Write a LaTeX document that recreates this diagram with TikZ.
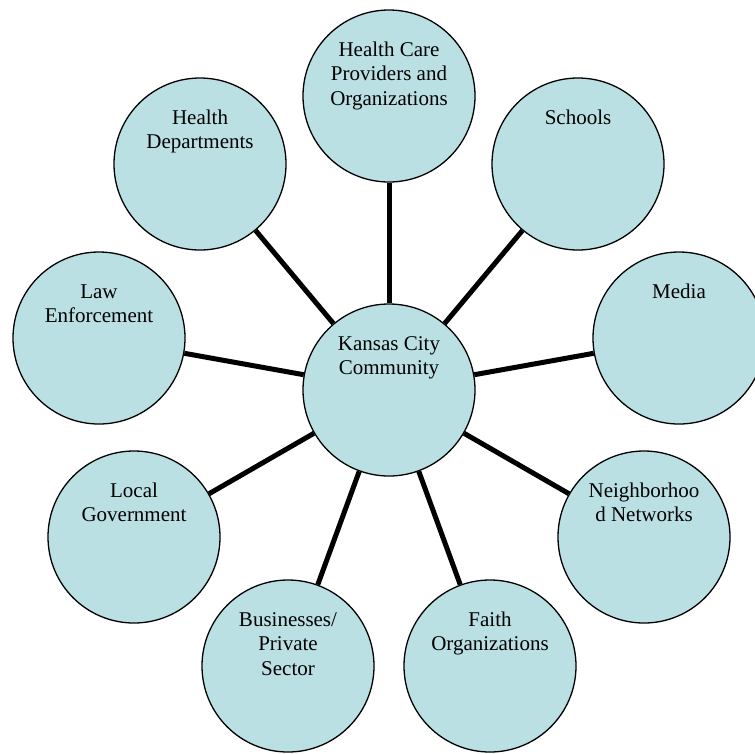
\documentclass[tikz,border=0pt]{standalone}
\usepackage{fontspec}
\setmainfont{Liberation Serif}
\definecolor{bubble}{RGB}{186,224,227}
\begin{document}
\begin{tikzpicture}[x=1pt,y=-1pt,
  bubble/.style={circle,draw=black,line width=1.3pt,fill=bubble,minimum size=172pt,inner sep=0pt},
  spoke/.style={line width=5pt},
  caption/.style={anchor=base,inner sep=0pt,font=\fontsize{21}{24.5}\selectfont}]
\clip (0,0) rectangle (755,753);
% hub and satellites
\node[bubble] (kc) at (389,390) {};
\node[bubble] (hc) at (389,96) {};
\node[bubble] (sc) at (578,164) {};
\node[bubble] (me) at (679,338) {};
\node[bubble] (nn) at (644,537) {};
\node[bubble] (fo) at (490,666) {};
\node[bubble] (bp) at (288,666) {};
\node[bubble] (lg) at (134,537) {};
\node[bubble] (le) at (99,338) {};
\node[bubble] (hd) at (200,164) {};
% spokes from the hub
\foreach \s in {hc,sc,me,nn,fo,bp,lg,le,hd}
  \draw[spoke] (kc) -- (\s);
% captions, first baseline near the top of each circle
\node[caption] (t-kc) at (389,350) {\begin{tabular}[t]{@{}c@{}}Kansas City\\Community\end{tabular}};
\node[caption] (t-hc) at (389,56) {\begin{tabular}[t]{@{}c@{}}Health Care\\Providers and\\Organizations\end{tabular}};
\node[caption] (t-sc) at (578,124) {\begin{tabular}[t]{@{}c@{}}Schools\end{tabular}};
\node[caption] (t-me) at (679,298) {\begin{tabular}[t]{@{}c@{}}Media\end{tabular}};
\node[caption] (t-nn) at (644,497) {\begin{tabular}[t]{@{}c@{}}Neighborhoo\\d Networks\end{tabular}};
\node[caption] (t-fo) at (490,626) {\begin{tabular}[t]{@{}c@{}}Faith\\Organizations\end{tabular}};
\node[caption] (t-bp) at (288,626) {\begin{tabular}[t]{@{}c@{}}Businesses/\\Private\\Sector\end{tabular}};
\node[caption] (t-lg) at (134,497) {\begin{tabular}[t]{@{}c@{}}Local\\Government\end{tabular}};
\node[caption] (t-le) at (99,298) {\begin{tabular}[t]{@{}c@{}}Law\\Enforcement\end{tabular}};
\node[caption] (t-hd) at (200,124) {\begin{tabular}[t]{@{}c@{}}Health\\Departments\end{tabular}};
\end{tikzpicture}
\end{document}
